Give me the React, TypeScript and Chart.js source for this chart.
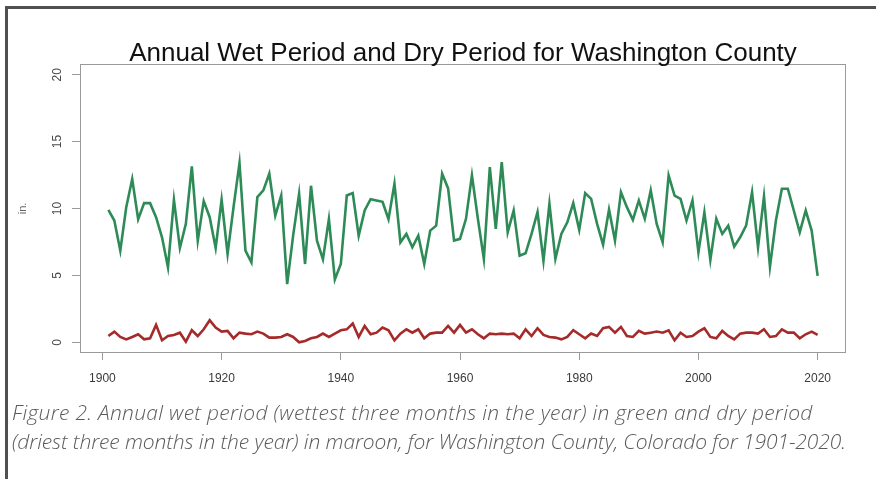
import React, { useEffect, useRef } from "react";
import { Chart, registerables } from "chart.js";

Chart.register(...registerables);

const TITLE = "Annual Wet Period and Dry Period for Washington County";
const Y_LABEL = "in.";
const CAPTION_1 = "Figure 2. Annual wet period (wettest three months in the year) in green and dry period";
const CAPTION_2 = "(driest three months in the year) in maroon, for Washington County, Colorado for 1901-2020.";

const FIRST_YEAR = 1901;
const X_TICKS = [1900, 1920, 1940, 1960, 1980, 2000, 2020];
const Y_TICKS = [0, 5, 10, 15, 20];

// Wet period (wettest three months), inches, 1901-2020
const WET = [
  9.9, 9.1, 6.85, 10.1, 12.2, 9.2, 10.4, 10.4, 9.35, 7.85,
  5.6, 10.65, 7.05, 8.85, 13.15, 7.6, 10.55, 9.35, 7.05, 10.65,
  6.6, 10.1, 13.4, 6.85, 5.97, 10.85, 11.35, 12.6, 9.47, 10.97,
  4.35, 7.97, 11.1, 5.85, 11.7, 7.6, 6.2, 9.2, 4.7, 5.85,
  10.97, 11.15, 7.97, 9.85, 10.7, 10.6, 10.5, 9.2, 11.85, 7.47,
  8.1, 7.1, 7.97, 5.85, 8.35, 8.72, 12.6, 11.5, 7.6, 7.73,
  9.23, 12.48, 9.23, 6.23, 13.1, 8.48, 13.47, 8.22, 9.85, 6.47,
  6.65, 8.1, 9.72, 6.1, 10.35, 6.23, 8.1, 8.97, 10.4, 8.4,
  11.15, 10.72, 8.85, 7.3, 9.92, 7.6, 11.22, 10.1, 9.15, 10.6,
  9.23, 11.35, 8.85, 7.47, 12.47, 10.97, 10.72, 9.1, 10.6, 6.72,
  9.72, 6.15, 9.23, 8.1, 8.72, 7.15, 7.85, 8.72, 11.22, 7.1,
  10.9, 5.65, 9.1, 11.48, 11.48, 9.85, 8.22, 9.85, 8.35, 4.97,
];

// Dry period (driest three months), inches, 1901-2020
const DRY = [
  0.47, 0.8, 0.4, 0.22, 0.4, 0.6, 0.22, 0.3, 1.3, 0.15,
  0.47, 0.55, 0.72, 0.05, 0.9, 0.47, 0.97, 1.65, 1.1, 0.8,
  0.85, 0.3, 0.72, 0.65, 0.6, 0.8, 0.65, 0.35, 0.35, 0.4,
  0.6, 0.4, 0.0, 0.1, 0.3, 0.4, 0.65, 0.4, 0.65, 0.9,
  0.97, 1.4, 0.4, 1.22, 0.6, 0.72, 1.1, 0.9, 0.15, 0.65,
  0.97, 0.72, 0.97, 0.3, 0.65, 0.72, 0.72, 1.22, 0.72, 1.3,
  0.72, 0.97, 0.6, 0.3, 0.65, 0.6, 0.65, 0.6, 0.65, 0.3,
  0.97, 0.47, 1.05, 0.55, 0.4, 0.35, 0.22, 0.4, 0.9, 0.6,
  0.3, 0.65, 0.47, 1.05, 1.15, 0.72, 1.15, 0.47, 0.4, 0.85,
  0.65, 0.72, 0.8, 0.72, 0.9, 0.15, 0.72, 0.4, 0.47, 0.8,
  1.05, 0.4, 0.3, 0.85, 0.47, 0.22, 0.65, 0.72, 0.72, 0.65,
  0.97, 0.4, 0.47, 0.97, 0.72, 0.72, 0.3, 0.6, 0.8, 0.55,
];

const YEARS = WET.map((_, i) => FIRST_YEAR + i);

const AXIS_FONT = "'Liberation Sans', Arial, sans-serif";

const boxAndYLabels = {
  id: "boxAndYLabels",
  afterDraw(chart: any) {
    const { ctx, chartArea } = chart;
    const ys = chart.scales.y;
    ctx.save();
    ctx.strokeStyle = "#9a9a9a";
    ctx.lineWidth = 1;
    ctx.strokeRect(
      Math.round(chartArea.left) + 0.5,
      Math.round(chartArea.top) + 0.5,
      Math.round(chartArea.right - chartArea.left) - 1,
      Math.round(chartArea.bottom - chartArea.top) - 1
    );
    ctx.fillStyle = "#4a4a4a";
    ctx.font = `12px ${AXIS_FONT}`;
    ctx.textAlign = "center";
    ctx.textBaseline = "middle";
    for (const v of Y_TICKS) {
      const py = ys.getPixelForValue(v);
      ctx.save();
      ctx.translate(58, py);
      ctx.rotate(-Math.PI / 2);
      ctx.fillText(String(v), 0, 0);
      ctx.restore();
    }
    ctx.font = `11px ${AXIS_FONT}`;
    ctx.fillStyle = "#666";
    ctx.save();
    ctx.translate(23, (chartArea.top + chartArea.bottom) / 2);
    ctx.rotate(-Math.PI / 2);
    ctx.fillText(Y_LABEL, 0, 0);
    ctx.restore();
    ctx.restore();
  },
};

function ChartCanvas() {
  const ref = useRef<HTMLCanvasElement | null>(null);
  useEffect(() => {
    if (!ref.current) return;
    const chart = new Chart(ref.current, {
      type: "line",
      data: {
        datasets: [
          {
            label: "Wet period",
            data: YEARS.map((x, i) => ({ x, y: WET[i] })),
            borderColor: "#2e8b57",
            borderWidth: 2.6,
            pointRadius: 0,
            tension: 0,
            fill: false,
          },
          {
            label: "Dry period",
            data: YEARS.map((x, i) => ({ x, y: DRY[i] })),
            borderColor: "#a52a2a",
            borderWidth: 2.6,
            pointRadius: 0,
            tension: 0,
            fill: false,
          },
        ],
      },
      options: {
        responsive: false,
        animation: false,
        devicePixelRatio: 1,
        layout: { padding: { top: 64, right: 30, left: 0, bottom: 0 } },
        plugins: {
          legend: { display: false },
          title: { display: false },
          tooltip: { enabled: false },
        },
        scales: {
          x: {
            type: "linear",
            min: 1896.24,
            max: 2024.76,
            afterBuildTicks: (scale: any) => {
              scale.ticks = X_TICKS.map((value) => ({ value }));
            },
            afterFit: (scale: any) => {
              scale.height = 47;
            },
            border: { display: false },
            grid: {
              drawOnChartArea: false,
              drawTicks: true,
              tickLength: 7,
              color: "#9a9a9a",
              lineWidth: 1,
            },
            ticks: {
              autoSkip: false,
              maxRotation: 0,
              minRotation: 0,
              padding: 11,
              color: "#3a3a3a",
              font: { family: AXIS_FONT, size: 12 },
              callback: (v: any) => String(v),
            },
          },
          y: {
            type: "linear",
            min: -0.8,
            max: 20.8,
            afterBuildTicks: (scale: any) => {
              scale.ticks = Y_TICKS.map((value) => ({ value }));
            },
            afterFit: (scale: any) => {
              scale.width = 80;
            },
            border: { display: false },
            grid: {
              drawOnChartArea: false,
              drawTicks: true,
              tickLength: 8,
              color: "#9a9a9a",
              lineWidth: 1,
            },
            ticks: { display: false },
          },
        },
      },
      plugins: [boxAndYLabels],
    });
    return () => chart.destroy();
  }, []);
  return (
    <canvas
      ref={ref}
      width={876}
      height={400}
      style={{ position: "absolute", left: 0, top: 0, width: 876, height: 400 }}
    />
  );
}

export default function App() {
  const captionStyle: React.CSSProperties = {
    position: "absolute",
    left: 12,
    fontFamily: "'Open Sans', Lato, sans-serif",
    fontStyle: "italic",
    fontWeight: 300,
    fontSize: 21,
    lineHeight: "21px",
    color: "#5a5a5a",
    whiteSpace: "nowrap",
  };
  return (
    <div
      style={{
        position: "absolute",
        left: 0,
        top: 0,
        width: 876,
        height: 479,
        background: "#fff",
        overflow: "hidden",
      }}
    >
      <div
        style={{
          position: "absolute",
          left: 5,
          top: 6,
          width: 900,
          height: 500,
          borderTop: "3px solid #505050",
          borderLeft: "3px solid #505050",
        }}
      />
      <ChartCanvas />
      <div
        style={{
          position: "absolute",
          left: 80,
          width: 766,
          top: 39,
          textAlign: "center",
          fontFamily: AXIS_FONT,
          fontSize: 26,
          lineHeight: "26px",
          color: "#111",
          whiteSpace: "nowrap",
        }}
      >
        {TITLE}
      </div>
      <div style={{ ...captionStyle, top: 402, letterSpacing: "0.3px" }}>{CAPTION_1}</div>
      <div style={{ ...captionStyle, top: 431, letterSpacing: "-0.1px" }}>{CAPTION_2}</div>
    </div>
  );
}
